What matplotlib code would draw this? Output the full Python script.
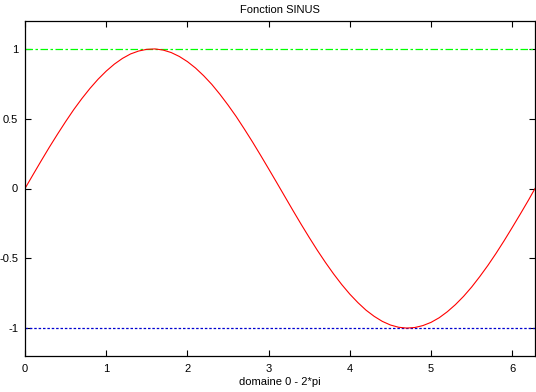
import matplotlib
matplotlib.use('Agg')
import matplotlib.pyplot as plt

# points (x in radians, y = value)
x_vals = [0.0, 0.1, 0.2, 0.3, 0.4, 0.5, 0.6, 0.7, 0.8, 0.9,
          1.0, 1.1, 1.2, 1.3, 1.4, 1.5, 1.6, 1.7, 1.8, 1.9,
          2.0, 2.1, 2.2, 2.3, 2.4, 2.5, 2.6, 2.7, 2.8, 2.9,
          3.0, 3.1, 3.2, 3.3, 3.4, 3.5, 3.6, 3.7, 3.8, 3.9,
          4.0, 4.1, 4.2, 4.3, 4.4, 4.5, 4.6, 4.7, 4.8, 4.9,
          5.0, 5.1, 5.2, 5.3, 5.4, 5.5, 5.6, 5.7, 5.8, 5.9,
          6.0, 6.1, 6.2, 6.28]
y_vals = [0.000, 0.100, 0.199, 0.296, 0.389, 0.479, 0.565, 0.644, 0.717, 0.783,
          0.841, 0.891, 0.932, 0.964, 0.985, 0.997, 1.000, 0.992, 0.974, 0.946,
          0.909, 0.863, 0.808, 0.746, 0.675, 0.598, 0.516, 0.427, 0.335, 0.239,
          0.141, 0.042, -0.058, -0.158, -0.256, -0.351, -0.443, -0.530, -0.612, -0.688,
          -0.757, -0.818, -0.872, -0.916, -0.952, -0.978, -0.994, -1.000, -0.996, -0.982,
          -0.959, -0.926, -0.883, -0.832, -0.773, -0.706, -0.631, -0.551, -0.465, -0.374,
          -0.279, -0.182, -0.083, 0.000]

upper_level = 1
lower_level = -1

x_ticks = [0, 1, 2, 3, 4, 5, 6]
y_ticks = [-1, -0.5, 0, 0.5, 1]
y_tick_labels = ['-1', '-0.5', '0', '0.5', '1']

plt.rcParams['font.family'] = ['Liberation Sans', 'DejaVu Sans']

fig = plt.figure(figsize=(5.36, 3.92), dpi=100)
ax = fig.add_axes([25 / 536, 36 / 392, 510 / 536, 335 / 392])

ax.axhline(upper_level, color='#00ff00', linewidth=0.9, dashes=(6, 2, 2, 2))
ax.axhline(lower_level, color='#0000d0', linewidth=0.9, dashes=(2, 1.5))
ax.plot(x_vals, y_vals, color='red', linewidth=0.8)

ax.set_xlim(0, 6.28)
ax.set_ylim(-1.2, 1.2)
ax.set_xticks(x_ticks)
ax.set_yticks(y_ticks)
ax.set_yticklabels(y_tick_labels)
ax.tick_params(direction='in', top=True, right=True, length=4, width=0.8,
               labelsize=8)
ax.tick_params(axis='y', pad=5)
ax.tick_params(axis='x', pad=6)
for s in ax.spines.values():
    s.set_linewidth(0.9)

ax.set_title('Fonction SINUS', fontsize=8, pad=6)
ax.set_xlabel('domaine 0 - 2*pi', fontsize=8, labelpad=2)

fig.savefig('out.png', dpi=100)
